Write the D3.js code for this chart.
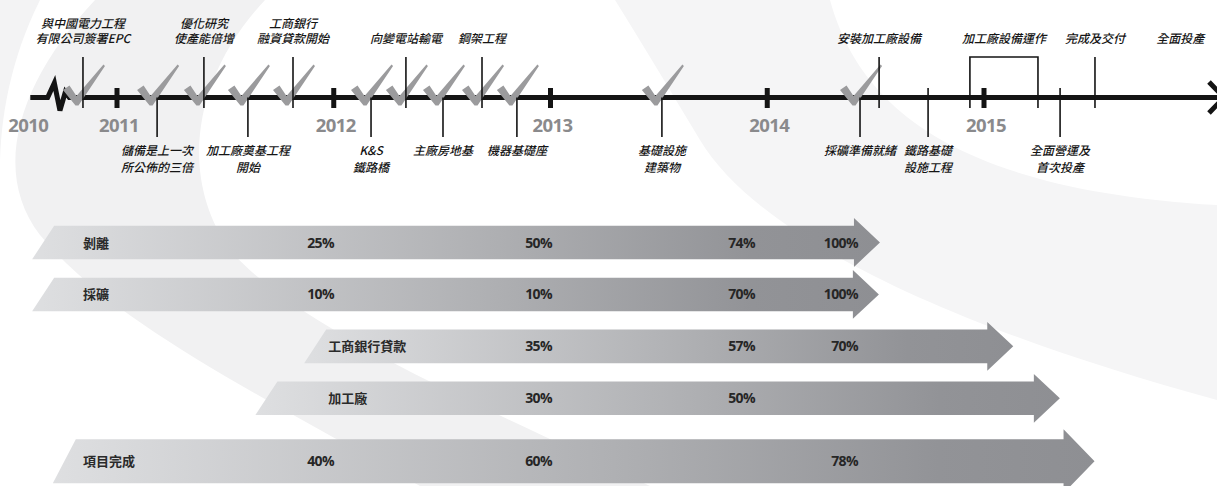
<!DOCTYPE html>
<html>
<head>
<meta charset="utf-8">
<script src="https://cdn.jsdelivr.net/npm/d3@7"></script>
<style>
  html, body { margin: 0; padding: 0; background: #ffffff; }
  svg { display: block; }
</style>
</head>
<body>
<div id="chart"></div>
<script>
// ---------------- DATA ----------------
const yearTicks = [2011, 2012, 2013, 2014, 2015];
const yearLabels = ["2010", "2011", "2012", "2013", "2014", "2015"];
const axisStart = 2010.6;   // broken-axis origin (labelled 2010)

// timeline events: text lines, date (fractional year), done (ticked)
const eventsAbove = [
  { lines: ["與中國電力工程", "有限公司簽署EPC"], date: 2010.843, done: true },
  { lines: ["優化研究", "使產能倍增"], date: 2011.401, done: true },
  { lines: ["工商銀行", "融資貸款開始"], date: 2011.812, done: true },
  { lines: ["向變電站輸電"], date: 2012.333, done: true },
  { lines: ["鋼架工程"], date: 2012.684, done: true },
  { lines: ["安裝加工廠設備"], date: 2014.516, done: false },
  { lines: ["完成及交付"], date: 2015.512, done: false }
];
const eventsBelow = [
  { lines: ["儲備是上一次", "所公佈的三倍"], date: 2011.185, done: true },
  { lines: ["加工廠奠基工程", "開始"], date: 2011.604, done: true },
  { lines: ["K&S", "鐵路橋"], date: 2012.172, done: true },
  { lines: ["主廠房地基"], date: 2012.504, done: true },
  { lines: ["機器基礎座"], date: 2012.845, done: true },
  { lines: ["基礎設施", "建築物"], date: 2013.514, done: true },
  { lines: ["採礦準備就緒"], date: 2014.428, done: true },
  { lines: ["鐵路基礎", "設施工程"], date: 2014.742, done: false },
  { lines: ["全面營運及", "首次投產"], date: 2015.351, done: false }
];
const periodEvents = [
  { lines: ["加工廠設備運作"], start: 2014.935, end: 2015.249 }
];
const labelOnlyEvents = [
  { lines: ["全面投產"], date: 2015.905 }
];

// progress arrows
const arrowNames = ["剝離", "採礦", "工商銀行貸款", "加工廠", "項目完成"];
const arrowStart = [2010.71, 2010.71, 2011.965, 2011.74, 2010.81];
const arrowEnd   = [2014.52, 2014.515, 2015.135, 2015.35, 2015.51];
const arrowMajor = [false, false, false, false, true];
const progressColumns = ["c1", "c2", "c3", "c4"];
const progressValues = [
  ["25%", "50%", "74%", "100%"],
  ["10%", "10%", "70%", "100%"],
  [null, "35%", "57%", "70%"],
  [null, "30%", "50%", null],
  ["40%", "60%", null, "78%"]
];

// ---------------- CHART ----------------
const W = 1217, H = 486;
const svg = d3.select("#chart").append("svg")
  .attr("width", W).attr("height", H)
  .attr("viewBox", `0 0 ${W} ${H}`);

const x = d3.scaleLinear().domain([2011, 2015]).range([117, 984]);
const axisY = 97.5;
const cjk = "'Noto Sans CJK TC', 'Noto Sans CJK SC', sans-serif";

// background watermark swooshes
const bg = svg.append("g");
bg.append("path")
  .attr("d", "M95,0 C20,80 -10,170 40,235 C110,320 250,390 420,486 L650,486 C470,400 300,330 230,250 C180,180 190,80 265,0 Z")
  .attr("fill", "#f1f1f2");
bg.append("path")
  .attr("d", "M0,0 L40,0 C10,60 0,120 0,170 Z")
  .attr("fill", "#f3f3f4");
bg.append("path")
  .attr("d", "M615,0 L830,0 C860,110 960,190 1217,205 L1217,400 C960,330 760,240 700,140 C670,90 640,40 615,0 Z")
  .attr("fill", "#f5f5f6");

// ---------- timeline ----------
const tl = svg.append("g");
const x0 = x(axisStart);
const zx = x(2010.68);
const linePath = d3.path();
linePath.moveTo(x0, axisY);
linePath.lineTo(zx, axisY);
linePath.lineTo(zx + 6.7, axisY - 14.5);
linePath.lineTo(zx + 12.3, axisY + 13);
linePath.lineTo(zx + 17.7, axisY - 5.5);
linePath.lineTo(zx + 21.7, axisY);
linePath.lineTo(W, axisY);
tl.append("path").attr("d", linePath.toString())
  .attr("fill", "none").attr("stroke", "#141414").attr("stroke-width", 5)
  .attr("stroke-linejoin", "miter");

// end chevron
tl.append("path")
  .attr("d", `M${W - 8},${axisY - 15.5} L${W + 7},${axisY} L${W - 8},${axisY + 15.5}`)
  .attr("fill", "none").attr("stroke", "#141414").attr("stroke-width", 5);

// year ticks
tl.selectAll("rect.ytick").data(yearTicks).join("rect")
  .attr("class", "ytick")
  .attr("x", d => x(d) - 2.5).attr("y", axisY - 9.5)
  .attr("width", 5).attr("height", 20)
  .attr("fill", "#141414");

// year labels
const yearPos = yearLabels.map(l => (l === "2010" ? x0 - 2 : x(+l) + 2));
tl.selectAll("text.year").data(yearLabels).join("text")
  .attr("class", "year")
  .attr("x", (d, i) => yearPos[i]).attr("y", 132)
  .attr("text-anchor", "middle")
  .attr("font-family", "'Open Sans', sans-serif")
  .attr("font-weight", 700).attr("font-size", 18.5)
  .attr("letter-spacing", -0.6)
  .attr("fill", "#8a8a8c")
  .text(d => d);

// check marks for completed events
const allEvents = eventsAbove.concat(eventsBelow);
const doneEvents = allEvents.filter(d => d.done);
function checkPath(cx, cy) {
  const p = d3.path();
  p.moveTo(cx - 13, cy - 15);
  p.lineTo(cx - 6.5, cy - 19.5);
  p.lineTo(cx + 0.5, cy - 9);
  p.lineTo(cx + 27.5, cy - 40.5);
  p.lineTo(cx + 29, cy - 39);
  p.lineTo(cx + 2.5, cy + 0.5);
  p.lineTo(cx - 0.5, cy + 0.5);
  p.closePath();
  return p.toString();
}
tl.selectAll("path.check").data(doneEvents).join("path")
  .attr("class", "check")
  .attr("d", d => checkPath(x(d.date) - 7, 105))
  .attr("fill", "#9b9b9d");

// event lines
tl.selectAll("line.above").data(eventsAbove).join("line")
  .attr("class", "above")
  .attr("x1", d => x(d.date)).attr("x2", d => x(d.date))
  .attr("y1", 57).attr("y2", 108)
  .attr("stroke", "#141414").attr("stroke-width", 1.6);
tl.selectAll("line.below").data(eventsBelow).join("line")
  .attr("class", "below")
  .attr("x1", d => x(d.date)).attr("x2", d => x(d.date))
  .attr("y1", d => d.done ? axisY : 88).attr("y2", 137)
  .attr("stroke", "#141414").attr("stroke-width", 1.6);

// period bracket
tl.selectAll("path.period").data(periodEvents).join("path")
  .attr("class", "period")
  .attr("d", d => `M${x(d.start)},108 V57 H${x(d.end)} V108`)
  .attr("fill", "none").attr("stroke", "#141414").attr("stroke-width", 1.6);

// labels
function labelStyle(sel) {
  return sel.attr("font-family", cjk)
    .attr("font-style", "italic")
    .attr("font-weight", 500)
    .attr("font-size", 12)
    .attr("fill", "#151515")
    .attr("text-anchor", "middle");
}
const aboveLabels = eventsAbove.map(d => ({ lines: d.lines, cx: x(d.date) }))
  .concat(periodEvents.map(d => ({ lines: d.lines, cx: (x(d.start) + x(d.end)) / 2 })))
  .concat(labelOnlyEvents.map(d => ({ lines: d.lines, cx: x(d.date) })));
const gA = tl.selectAll("text.alabel").data(aboveLabels).join("text")
  .attr("class", "alabel").call(labelStyle);
gA.each(function (d) {
  const t = d3.select(this);
  const n = d.lines.length;
  d.lines.forEach((ln, i) => {
    t.append("tspan").attr("x", d.cx).attr("y", 43 - (n - 1 - i) * 15.5).text(ln);
  });
});
const gB = tl.selectAll("text.blabel").data(eventsBelow).join("text")
  .attr("class", "blabel").call(labelStyle);
gB.each(function (d) {
  const t = d3.select(this);
  d.lines.forEach((ln, i) => {
    t.append("tspan").attr("x", x(d.date)).attr("y", 155 + i * 17).text(ln);
  });
});

// ---------- progress arrows ----------
const arrows = arrowNames.map((name, i) => ({
  name, start: arrowStart[i], end: arrowEnd[i], major: arrowMajor[i],
  values: progressValues[i], idx: i
}));
const yRow = d3.scalePoint().domain(arrowNames).range([242.5, 450.2]);
const colX = d3.scaleOrdinal().domain(progressColumns).range([334, 552, 755, 858]);
const lateStart = d3.max(arrowStart);

const defs = svg.append("defs");
arrows.forEach(a => {
  const g = defs.append("linearGradient").attr("id", "grad" + a.idx)
    .attr("x1", 0).attr("x2", 1).attr("y1", 0).attr("y2", 0);
  g.append("stop").attr("offset", "0%").attr("stop-color", "#dedfe1");
  g.append("stop").attr("offset", "55%").attr("stop-color", "#aeafb2");
  g.append("stop").attr("offset", "85%").attr("stop-color", "#929397");
  g.append("stop").attr("offset", "100%").attr("stop-color", "#8e8f93");
});

function arrowPath(a) {
  const h = a.major ? 44 : 33.6;
  const cy = yRow(a.name) + (a.major ? 11 : 0);
  const slant = a.major ? 23 : 22;
  const hl = a.major ? 31 : 26;
  const ov = a.major ? 10 : 7.6;
  const xs = x(a.start), xe = x(a.end);
  const top = cy - h / 2, bot = cy + h / 2;
  const p = d3.path();
  p.moveTo(xs, top);
  p.lineTo(xe - hl, top);
  p.lineTo(xe - hl, top - ov);
  p.lineTo(xe, cy);
  p.lineTo(xe - hl, bot + ov);
  p.lineTo(xe - hl, bot);
  p.lineTo(xs - slant, bot);
  p.closePath();
  return p.toString();
}
const ag = svg.append("g");
ag.selectAll("path.arrow").data(arrows).join("path")
  .attr("class", "arrow")
  .attr("d", arrowPath)
  .attr("fill", d => `url(#grad${d.idx})`);

const rowCy = a => yRow(a.name) + (a.major ? 11 : 0);
ag.selectAll("text.aname").data(arrows).join("text")
  .attr("class", "aname")
  .attr("x", d => d.start < 2011.5 ? 83 : x(lateStart) + 2)
  .attr("y", d => rowCy(d) + 5)
  .attr("font-family", cjk)
  .attr("font-weight", 700).attr("font-size", 13)
  .attr("fill", "#2a2a2a")
  .text(d => d.name);

const cells = [];
arrows.forEach(a => a.values.forEach((v, j) => {
  if (v) cells.push({ a, v, col: progressColumns[j] });
}));
ag.selectAll("text.pct").data(cells).join("text")
  .attr("class", "pct")
  .attr("x", d => colX(d.col))
  .attr("y", d => rowCy(d.a) + 5)
  .attr("text-anchor", "end")
  .attr("font-family", "'Open Sans', sans-serif")
  .attr("font-weight", 700).attr("font-size", 14)
  .attr("letter-spacing", -0.6)
  .attr("fill", "#262626")
  .text(d => d.v);
</script>
</body>
</html>
